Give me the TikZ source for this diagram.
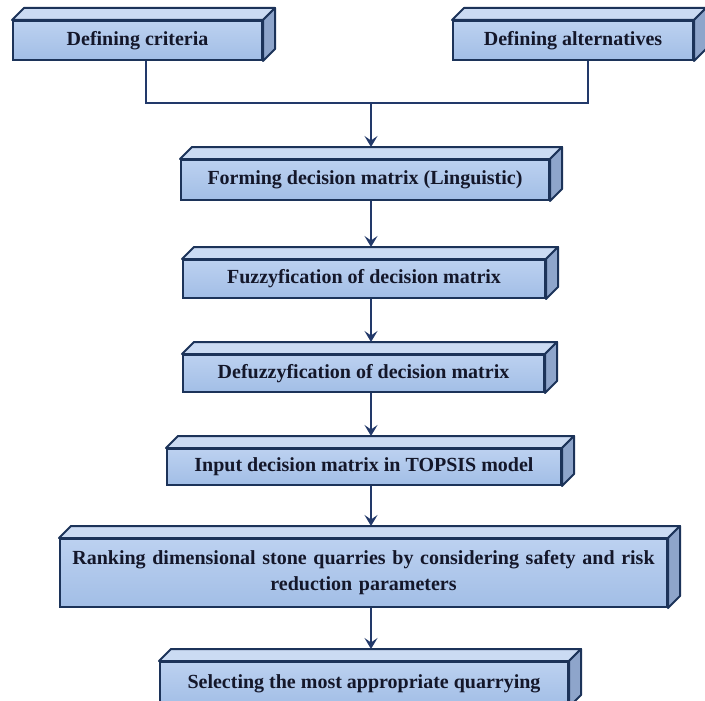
\documentclass[tikz,border=0pt]{standalone}
\usepackage{fontspec}
\setmainfont{Liberation Serif}
\usetikzlibrary{arrows.meta,calc}
\definecolor{boxline}{HTML}{1C3359}
\definecolor{flowline}{HTML}{22396A}
\definecolor{frontA}{HTML}{BCD1F0}
\definecolor{frontB}{HTML}{A2BEE6}
\definecolor{topA}{HTML}{CBDBF3}
\definecolor{sideA}{HTML}{8EA5CB}
\definecolor{inktext}{HTML}{14172A}
\tikzset{
  slab/.style={draw=boxline, line width=2pt, top color=frontA, bottom color=frontB,
    text=inktext, align=center, inner sep=4pt},
  topface/.style={draw=boxline, line width=2pt, fill=topA, line join=round},
  sideface/.style={draw=boxline, line width=2pt, fill=sideA, line join=round},
  flowline/.style={draw=flowline, line width=2.4pt},
  flowarrow/.style={flowline, -{Stealth[length=11pt,width=13pt,inset=4.5pt]}}
}
\begin{document}
\begin{tikzpicture}[x=1pt, y=-1pt, font=\bfseries\fontsize{20}{26}\selectfont]
\useasboundingbox (0,0) rectangle (705,701);
% boxes
\node[slab, minimum width=249pt, minimum height=39pt] (crit) at (137.5,40.5) {Defining criteria};
\node[slab, minimum width=240pt, minimum height=39pt] (alt) at (573,40.5) {Defining alternatives};
\node[slab, minimum width=368pt, minimum height=40pt] (form) at (365,180) {Forming decision matrix (Linguistic)};
\node[slab, minimum width=362pt, minimum height=38pt] (fuzzy) at (364,279) {Fuzzyfication of decision matrix};
\node[slab, minimum width=361pt, minimum height=37pt] (defuzzy) at (363.5,373.5) {Defuzzyfication of decision matrix};
\node[slab, minimum width=394pt, minimum height=36pt] (input) at (364,467) {Input decision matrix in TOPSIS model};
\node[slab, minimum width=607pt, minimum height=68pt, text width=595pt] (rank) at (363.5,573)
  {Ranking dimensional stone quarries by considering safety and risk\\ reduction parameters};
\node[slab, minimum width=408pt, minimum height=44pt] (select) at (364,684) {Selecting the most appropriate quarrying};
% depth faces
\foreach \n in {crit,alt,form,fuzzy,defuzzy,input,rank,select}
{
  \path[topface] (\n.north west) -- ++(12,-12) -- ($(\n.north east)+(12,-12)$) -- (\n.north east) -- cycle;
  \path[sideface] (\n.north east) -- ++(12,-12) -- ($(\n.south east)+(12,-12)$) -- (\n.south east) -- cycle;
}
% connectors
\coordinate (join) at (371,103);
\draw[flowline] (crit.south -| 146,0) |- (join) -| (alt.south -| 588,0);
\draw[flowarrow] (join) -- ($(form.north -| join)+(0,-12)$);
\foreach \a/\b in {form/fuzzy,fuzzy/defuzzy,defuzzy/input,input/rank,rank/select}
{
  \draw[flowarrow] (\a.south -| join) -- ($(\b.north -| join)+(0,-12)$);
}
\end{tikzpicture}
\end{document}
